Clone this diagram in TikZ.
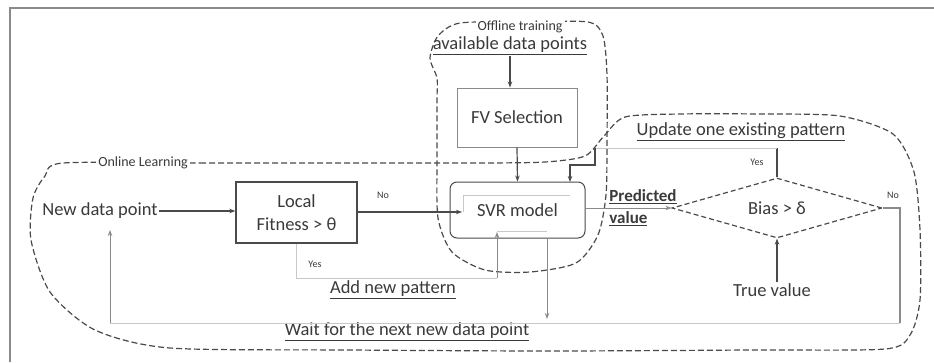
\documentclass[tikz,border=0pt]{standalone}
\usepackage{fontspec}
\setmainfont{Carlito}
\usetikzlibrary{arrows.meta,shapes.geometric}
\definecolor{ink}{HTML}{3A3A3A}
\definecolor{lineD}{HTML}{4A4A4A}
\definecolor{lineL}{HTML}{C8C8C8}
\definecolor{lineM}{HTML}{8A8A8A}
\tikzset{
  txt/.style={font=\fontsize{18.5}{23}\selectfont, text=ink, inner sep=1pt, align=center},
  tag/.style={font=\fontsize{10}{12}\selectfont, text=ink, inner sep=1pt},
  grp/.style={font=\fontsize{14}{16}\selectfont, text=ink, fill=white, inner sep=2pt},
  procbox/.style={draw=lineD, line width=1.3pt, txt, inner sep=0pt},
  fvbox/.style={draw=lineM, line width=1pt, txt, inner sep=0pt},
  svrbox/.style={draw=lineD, line width=1pt, rounded corners=7pt, txt, inner sep=0pt},
  decide/.style={diamond, draw=lineD, line width=1.2pt, dash pattern=on 5pt off 3pt,
    aspect=3.5, inner sep=0pt, txt},
  region/.style={draw=lineD, line width=1.2pt, dash pattern=on 6pt off 3pt},
  arr/.style={draw=lineD, line width=1.2pt, -{Stealth[length=6pt,width=4.5pt]}},
  arrM/.style={draw=lineM, line width=1pt, -{Stealth[length=6pt,width=4.5pt]}},
  faint/.style={draw=lineL, line width=1pt},
}
\begin{document}
\begin{tikzpicture}[x=1pt,y=-1pt]
\useasboundingbox (0,0) rectangle (934,362);
\fill[white] (0,0) rectangle (934,362);
% page frame (top and left edges)
\draw[lineM, line width=1.2pt] (10,362) -- (10,8) -- (934,8);

% online learning region
\draw[region] plot[smooth cycle, tension=0.45] coordinates {
  (63,163) (200,163) (350,163) (480,163) (545,162) (585,156) (604,136) (625,117)
  (680,114) (760,114) (840,116) (893,134) (914,172) (920,230) (920,300) (910,335)
  (885,349) (750,350) (550,351) (350,350) (170,348) (95,330) (50,292) (31,240)
  (33,198) (45,176)};
% offline training region
\draw[region] plot[smooth cycle, tension=0.45] coordinates {
  (460,23) (525,22) (588,22) (603,36) (607,75) (607,140) (606,195) (598,235)
  (576,263) (530,272) (485,270) (452,252) (438,218) (437,160) (437,100)
  (437,78) (430,58) (438,36)};

\node[grp] (onl) at (143,163) {Online Learning};
\node[grp] (offl) at (520,27) {Offline training};

% nodes
\node[txt] (newdp) at (100,211) {New data point};
\node[procbox, minimum width=121pt, minimum height=61pt] (fit) at (296.5,212.5) {Local\\Fitness > θ};
\node[txt] (avail) at (510,46) {\underline{available data points}};
\node[fvbox, minimum width=120pt, minimum height=59pt] (fv) at (517,117.5) {FV Selection};
\node[svrbox, minimum width=135pt, minimum height=56pt] (svr) at (517.5,210) {SVR model};
\node[decide, minimum width=210pt, minimum height=60pt] (dia) at (777,208) {Bias > δ};
\node[txt] (truev) at (772,290) {True value};
\node[txt, font=\fontsize{17}{22}\selectfont\bfseries, align=left] (pred) at (643,208) {\underline{Predicted}\\\underline{value}};
\node[txt] (upd) at (741,132) {\underline{Update one existing pattern}};
\node[txt] (addn) at (393,290) {\underline{Add new pattern}};
\node[txt] (wait) at (407,332) {\underline{Wait for the next new data point}};

\node[tag] (no1) at (383,195) {No};
\node[tag] (yes1) at (315,264) {Yes};
\node[tag] (yes2) at (757,162) {Yes};
\node[tag] (no2) at (893,195) {No};

% helper points on connector bends
\coordinate (u0) at (777,148);
\coordinate (u1) at (595,148);
\coordinate (u2) at (595,165);
\coordinate (u3) at (570,165);
\coordinate (svrtr) at (570,182);
\coordinate (svrin) at (462,212);
\coordinate (a1) at (296.5,278);
\coordinate (svrbl) at (497,232);
\coordinate (svrbr) at (547,238);
\coordinate (w0) at (547,319);
\coordinate (r1) at (900,208);
\coordinate (r2) at (900,323);
\coordinate (l1) at (110,323);
\coordinate (ndin) at (110,230);

% faint inner guides of the SVR box
\draw[faint] (463,195) -- (570,195);
\draw[faint] (463,195) -- (463,212);
\draw[faint] (497,231) -- (547,231);

% connectors
\draw[arr] (newdp.east) -- (newdp.east -| fit.west);
\draw[arr] (fit.east |- svrin) -- (svrin);
\draw[arr] (avail.south) -- (fv.north -| avail.south);
\draw[arr] (fv.south) -- (svr.north);
% update path: diamond top back to the SVR model
\draw[lineD, line width=1.2pt] (dia.north) -- (u0);
\draw[faint] (u0) -- (u1);
\draw[arr] (u1) -- (u2) -- (u3) -- (svrtr);
\draw[arrM] (svr.east |- dia.west) -- (dia.west);
\draw[arr] (truev.north -| dia.south) -- (dia.south);
\draw[faint] (fit.south) -- (a1) -- (a1 -| svrbl);
\draw[arrM] (a1 -| svrbl) -- (svrbl);
\draw[arrM] (svrbr) -- (w0);
\draw[lineM, line width=1.2pt] (dia.east) -- (r1) -- (r2);
\draw[faint] (r2) -- (l1);
\draw[arrM] (l1) -- (ndin);
\end{tikzpicture}
\end{document}
